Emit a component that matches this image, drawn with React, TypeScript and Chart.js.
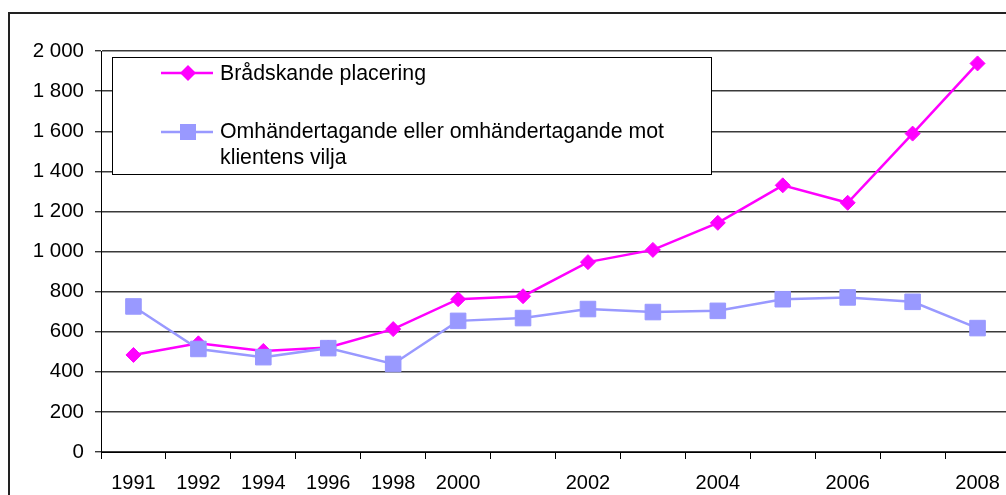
import React, { useEffect, useRef } from "react";
import { Chart, registerables } from "chart.js";

Chart.register(...registerables);

const years = ["1991", "1992", "1994", "1996", "1998", "2000", "2001", "2002", "2003", "2004", "2005", "2006", "2007", "2008"];
const shownYearLabels = ["1991", "1992", "1994", "1996", "1998", "2000", "", "2002", "", "2004", "", "2006", "", "2008"];
const bradskandeValues = [484, 542, 504, 521, 613, 762, 777, 947, 1008, 1143, 1330, 1243, 1588, 1938];
const omhandertagandeValues = [726, 514, 473, 518, 439, 654, 668, 713, 698, 704, 762, 771, 749, 618];
const seriesNames = ["Brådskande placering", "Omhändertagande eller omhändertagande mot", "klientens vilja"];
const yTicks = [0, 200, 400, 600, 800, 1000, 1200, 1400, 1600, 1800, 2000];

const MAGENTA = "#FF00FF";
const LAVENDER = "#9999FF";
const FONT = "'Liberation Sans', Arial, sans-serif";

const fmt = (v: number) => String(v).replace(/\B(?=(\d{3})+(?!\d))/g, " ");

const framePlugin = {
  id: "frameAndLegend",
  afterDraw(chart: any) {
    const ctx = chart.ctx;
    ctx.save();
    // outer frame
    ctx.strokeStyle = "#222";
    ctx.lineWidth = 2;
    ctx.strokeRect(9, 13, 1100, 600);

    // legend box
    ctx.fillStyle = "#fff";
    ctx.fillRect(112, 57, 600, 117);
    ctx.strokeStyle = "#000";
    ctx.lineWidth = 1;
    ctx.strokeRect(112.5, 57.5, 599, 117);

    const drawEntry = (y: number, color: string, kind: string) => {
      ctx.strokeStyle = color;
      ctx.lineWidth = 2.5;
      ctx.beginPath();
      ctx.moveTo(161, y);
      ctx.lineTo(213, y);
      ctx.stroke();
      ctx.fillStyle = color;
      ctx.beginPath();
      if (kind === "diamond") {
        ctx.moveTo(188 - 8, y);
        ctx.lineTo(188, y - 8);
        ctx.lineTo(188 + 8, y);
        ctx.lineTo(188, y + 8);
        ctx.closePath();
      } else {
        ctx.rect(188 - 8, y - 8, 16, 16);
      }
      ctx.fill();
    };
    drawEntry(73, MAGENTA, "diamond");
    drawEntry(132, LAVENDER, "square");

    ctx.fillStyle = "#000";
    ctx.font = `21.3px ${FONT}`;
    ctx.textBaseline = "middle";
    ctx.textAlign = "left";
    ctx.fillText(seriesNames[0], 220, 74);
    ctx.fillText(seriesNames[1], 220, 132);
    ctx.fillText(seriesNames[2], 220, 158);
    ctx.restore();
  },
};

export default function App() {
  const ref = useRef<HTMLCanvasElement>(null);
  useEffect(() => {
    if (!ref.current) return;
    const chart = new Chart(ref.current, {
      type: "line",
      data: {
        labels: years,
        datasets: [
          {
            label: seriesNames[0],
            data: bradskandeValues,
            borderColor: MAGENTA,
            backgroundColor: MAGENTA,
            borderWidth: 2.5,
            pointStyle: "rectRot",
            pointRadius: 7.5,
            pointBorderWidth: 1,
            pointBackgroundColor: MAGENTA,
            pointBorderColor: MAGENTA,
            tension: 0,
            order: 1,
          },
          {
            label: seriesNames[1] + " " + seriesNames[2],
            data: omhandertagandeValues,
            borderColor: LAVENDER,
            backgroundColor: LAVENDER,
            borderWidth: 2.5,
            pointStyle: "rect",
            pointRadius: 11,
            pointBorderWidth: 1,
            pointBackgroundColor: LAVENDER,
            pointBorderColor: LAVENDER,
            tension: 0,
            order: 0,
          },
        ],
      },
      options: {
        responsive: false,
        animation: false,
        devicePixelRatio: 1,
        layout: { padding: { left: 0, right: 20, top: 51, bottom: 0 } },
        plugins: { legend: { display: false }, tooltip: { enabled: false } },
        scales: {
          x: {
            offset: true,
            afterFit: (s: any) => {
              s.height = 68;
            },
            grid: { drawOnChartArea: false, offset: true, tickLength: 7, color: "#000", lineWidth: 1 },
            border: { display: true, color: "#000", width: 1 },
            ticks: {
              autoSkip: false,
              maxRotation: 0,
              padding: 12,
              color: "#000",
              font: { family: FONT, size: 20 },
              callback: (_v: any, i: number) => shownYearLabels[i],
            },
          },
          y: {
            min: 0,
            max: 2000,
            afterFit: (s: any) => {
              s.width = 101;
            },
            afterBuildTicks: (s: any) => {
              s.ticks = yTicks.map((v) => ({ value: v }));
            },
            grid: { color: "#3a3a3a", lineWidth: 1.4, tickLength: 6 },
            border: { display: true, color: "#000", width: 1 },
            ticks: {
              padding: 11,
              color: "#000",
              font: { family: FONT, size: 20.5 },
              callback: (v: any) => fmt(Number(v)),
            },
          },
        },
      },
      plugins: [framePlugin],
    });
    return () => chart.destroy();
  }, []);
  return (
    <div style={{ position: "absolute", left: 0, top: 0, width: 1006, height: 495, overflow: "hidden", background: "#fff" }}>
      <canvas ref={ref} width={1030} height={520} style={{ width: 1030, height: 520, display: "block" }} />
    </div>
  );
}
